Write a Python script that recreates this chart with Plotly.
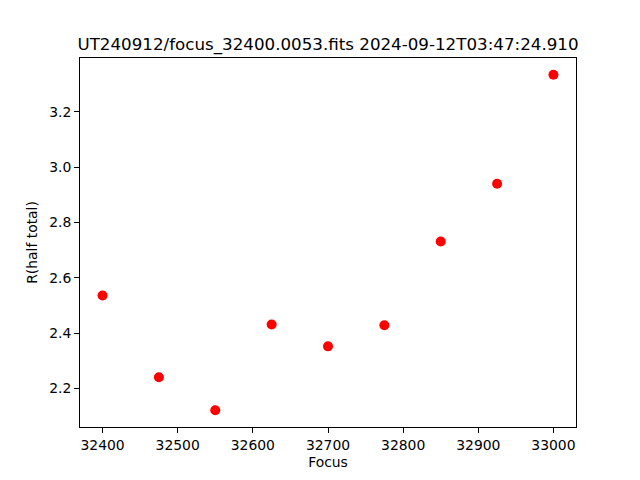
import plotly.graph_objects as go

focus = [32400, 32475, 32550, 32625, 32700, 32775, 32850, 32925, 33000]
r_half = [2.536, 2.240, 2.121, 2.431, 2.352, 2.428, 2.731, 2.940, 3.334]
title = "UT240912/focus_32400.0053.fits 2024-09-12T03:47:24.910"

xpad = (max(focus) - min(focus)) * 0.05
ypad = (max(r_half) - min(r_half)) * 0.05

fig = go.Figure(go.Scatter(
    x=focus, y=r_half, mode="markers",
    marker=dict(color="#ff0000", size=10, line=dict(width=0)),
))

axis_common = dict(
    showgrid=False, zeroline=False, showline=True, linecolor="black", linewidth=1,
    mirror=True, ticks="outside", ticklen=5, tickwidth=1, tickcolor="black",
    automargin=False,
    tickfont=dict(family="DejaVu Sans", size=13.9, color="black"),
)

# page body has an 8px default margin; compensate so the plot lands where the reference has it
L, T, PW, PH = 72, 50, 496, 369
fig.update_layout(
    width=640, height=480,
    margin=dict(l=L, r=640 - L - PW, t=T, b=480 - T - PH),
    paper_bgcolor="white", plot_bgcolor="white",
    showlegend=False,
    font=dict(family="DejaVu Sans", color="black"),
    title=dict(text=title, x=(L + PW / 2) / 640, xanchor="center",
               y=1 - 36 / 480, yanchor="middle",
               font=dict(family="DejaVu Sans", size=16.7, color="black")),
    xaxis=dict(axis_common, range=[min(focus) - xpad, max(focus) + xpad],
               tickvals=[32400, 32500, 32600, 32700, 32800, 32900, 33000],
               tickformat="d",
               title=dict(text="Focus", font=dict(size=13.9), standoff=5)),
    yaxis=dict(axis_common, range=[min(r_half) - ypad, max(r_half) + ypad],
               tickvals=[2.2, 2.4, 2.6, 2.8, 3.0, 3.2], tickformat=".1f",
               title=dict(text="R(half total)", font=dict(size=13.9), standoff=8)),
)

fig.write_html("out.html")
